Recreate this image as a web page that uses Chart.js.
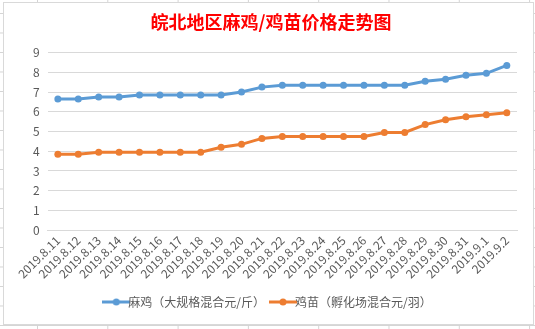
<!DOCTYPE html>
<html>
<head>
<meta charset="utf-8">
<script src="https://cdn.jsdelivr.net/npm/chart.js@4.4.0/dist/chart.umd.min.js"></script>
<style>
  body {
    margin: 0;
    width: 535px;
    height: 329px;
    overflow: hidden;
    background-color: #fff;
    background-image:
      linear-gradient(to right, #d4d4d4 1px, transparent 1px),
      linear-gradient(to bottom, #d4d4d4 1px, transparent 1px);
    background-size: 70.3px 19.5px;
    background-position: 37px 13px;
  }
  #box {
    position: absolute;
    left: 3px;
    top: 2px;
    width: 529px;
    height: 321px;
    border: 1px solid #d9d9d9;
    background: #fff;
  }
</style>
</head>
<body>
<div id="box"><canvas id="line-chart"></canvas></div>
<script>
const dates = ['2019.8.11', '2019.8.12', '2019.8.13', '2019.8.14', '2019.8.15', '2019.8.16',
  '2019.8.17', '2019.8.18', '2019.8.19', '2019.8.20', '2019.8.21', '2019.8.22', '2019.8.23',
  '2019.8.24', '2019.8.25', '2019.8.26', '2019.8.27', '2019.8.28', '2019.8.29', '2019.8.30',
  '2019.8.31', '2019.9.1', '2019.9.2'];
const maji = [6.65, 6.65, 6.75, 6.75, 6.85, 6.85, 6.85, 6.85, 6.85, 7.0, 7.25, 7.35, 7.35,
  7.35, 7.35, 7.35, 7.35, 7.35, 7.55, 7.65, 7.85, 7.95, 8.35];
const jimiao = [3.85, 3.85, 3.95, 3.95, 3.95, 3.95, 3.95, 3.95, 4.2, 4.35, 4.65, 4.75, 4.75,
  4.75, 4.75, 4.75, 4.95, 4.95, 5.35, 5.6, 5.75, 5.85, 5.95];
const seriesNames = ['麻鸡（大规格混合元/斤）', '鸡苗（孵化场混合元/羽）'];
const colors = ['#5B9BD5', '#ED7D31'];
const yTicks = [0, 1, 2, 3, 4, 5, 6, 7, 8, 9];

const font = '"Noto Sans CJK SC", "Noto Sans", sans-serif';

// legend marker: line with a dot in the middle
function marker(color) {
  const c = document.createElement('canvas');
  c.width = 28; c.height = 10;
  const g = c.getContext('2d');
  g.strokeStyle = color; g.lineWidth = 3;
  g.beginPath(); g.moveTo(0, 5); g.lineTo(28, 5); g.stroke();
  g.fillStyle = color;
  g.beginPath(); g.arc(14, 5, 3.5, 0, Math.PI * 2); g.fill();
  return c;
}

new Chart(document.getElementById('line-chart'), {
  type: 'line',
  data: {
    labels: dates,
    datasets: [
      { label: seriesNames[0], data: maji, borderColor: colors[0], backgroundColor: colors[0] },
      { label: seriesNames[1], data: jimiao, borderColor: colors[1], backgroundColor: colors[1] }
    ]
  },
  options: {
    responsive: true,
    maintainAspectRatio: false,
    animation: false,
    layout: { padding: { left: 21, right: 16, top: 0, bottom: 6 } },
    elements: {
      line: { borderWidth: 3, tension: 0 },
      point: { radius: 3.5, hoverRadius: 3.5, borderWidth: 0 }
    },
    plugins: {
      title: {
        display: true,
        text: '皖北地区麻鸡/鸡苗价格走势图',
        color: '#ff0000',
        font: { family: font, size: 18, weight: 'bold' },
        padding: { top: 8, bottom: 20 }
      },
      legend: {
        position: 'bottom',
        labels: {
          color: '#595959',
          font: { family: font, size: 12 },
          usePointStyle: true,
          boxWidth: 28,
          padding: 12,
          generateLabels: function (chart) {
            return chart.data.datasets.map(function (ds, i) {
              return {
                text: ds.label,
                fillStyle: colors[i],
                strokeStyle: colors[i],
                fontColor: '#595959',
                pointStyle: marker(colors[i]),
                datasetIndex: i,
                hidden: false
              };
            });
          }
        }
      }
    },
    scales: {
      x: {
        offset: true,
        grid: { display: false, drawTicks: false },
        border: { display: true, color: '#d9d9d9' },
        ticks: {
          color: '#595959',
          font: { family: font, size: 12 },
          minRotation: 45,
          maxRotation: 45,
          autoSkip: false,
          padding: 3
        }
      },
      y: {
        min: 0,
        max: 9,
        grid: { color: '#d9d9d9', drawTicks: false },
        border: { display: false },
        afterBuildTicks: function (axis) {
          axis.ticks = yTicks.map(function (v) { return { value: v }; });
        },
        ticks: {
          color: '#595959',
          font: { family: font, size: 12 },
          padding: 8
        }
      }
    }
  }
});
</script>
</body>
</html>
